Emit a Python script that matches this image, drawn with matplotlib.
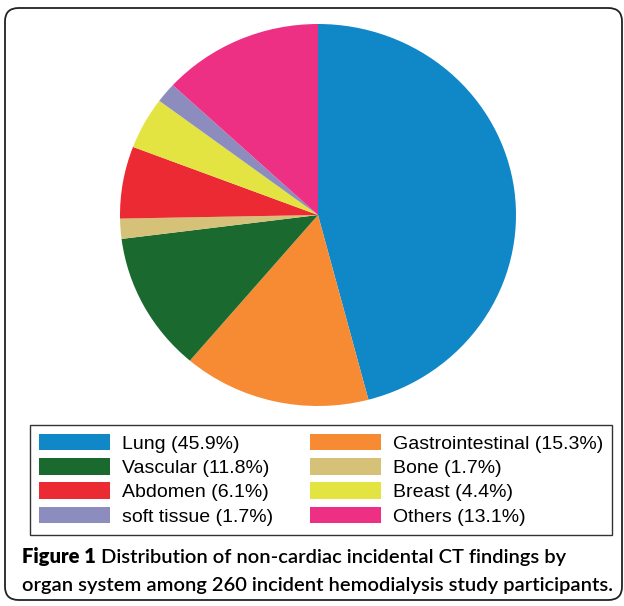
import matplotlib
matplotlib.use("Agg")
import matplotlib.pyplot as plt
from matplotlib.patches import FancyBboxPatch

categories = ["Lung", "Gastrointestinal", "Vascular", "Bone", "Abdomen",
              "Breast", "soft tissue", "Others"]
values = [45.9, 15.3, 11.8, 1.7, 6.1, 4.4, 1.7, 13.1]
colors = ["#1087C7", "#F68B33", "#1A6A30", "#D5C278", "#EC2A33",
          "#E3E342", "#8D8CBF", "#EE3085"]
caption_bold = "Figure 1"
caption_line1 = " Distribution of non-cardiac incidental CT findings by"
caption_line2 = "organ system among 260 incident hemodialysis study participants."

W, H = 624, 606
fig = plt.figure(figsize=(W / 100, H / 100), dpi=100)

# Rounded outer frame
x0, y0, x1, y1 = 5, 8, 622, 600
frame = FancyBboxPatch((x0 / W, 1 - y1 / H), (x1 - x0) / W, (y1 - y0) / H,
                       boxstyle="round,pad=0,rounding_size=0.022",
                       transform=fig.transFigure, fill=False,
                       edgecolor="#222222", linewidth=1.3, clip_on=False)
fig.add_artist(frame)

# Pie axes (slightly elliptical like the reference)
cx, cy, rx, ry = 318, 215, 198, 191
ax = fig.add_axes([(cx - rx) / W, 1 - (cy + ry) / H, 2 * rx / W, 2 * ry / H])
wedges, _ = ax.pie(values, colors=colors, startangle=90, counterclock=False,
                   wedgeprops=dict(linewidth=0))
ax.set_xlim(-1, 1)
ax.set_ylim(-1, 1)
ax.set_aspect("auto")
ax.axis("off")

labels = [f"{c} ({v}%)" for c, v in zip(categories, values)]
order = [0, 2, 4, 6, 1, 3, 5, 7]
fs = 14
fpx = fs * 100 / 72
leg = fig.legend([wedges[i] for i in order], [labels[i] for i in order],
                 ncol=2, loc="upper left",
                 bbox_to_anchor=(30 / W, 1 - 425 / H),
                 frameon=True, fancybox=False,
                 edgecolor="#333333", framealpha=1,
                 prop=dict(family="Liberation Sans", size=fs),
                 handlelength=71 / fpx, handleheight=18 / fpx,
                 handletextpad=12 / fpx,
                 labelspacing=0.28, borderpad=0.45,
                 columnspacing=37 / fpx, borderaxespad=0)
leg.get_frame().set_linewidth(1.0)

# Caption
t1 = fig.text(22 / W, 1 - 557 / H, caption_bold, family="Lato",
              weight="heavy", size=14.5, va="center", ha="left")
fig.canvas.draw()
bb = t1.get_window_extent()
fig.text(bb.x1 / W, 1 - 557 / H, caption_line1,
         family="Lato", weight="semibold", size=14.5, va="center", ha="left")
fig.text(22 / W, 1 - 585 / H, caption_line2,
         family="Lato", weight="semibold", size=14.5, va="center", ha="left")

fig.savefig("out.png", dpi=100)
